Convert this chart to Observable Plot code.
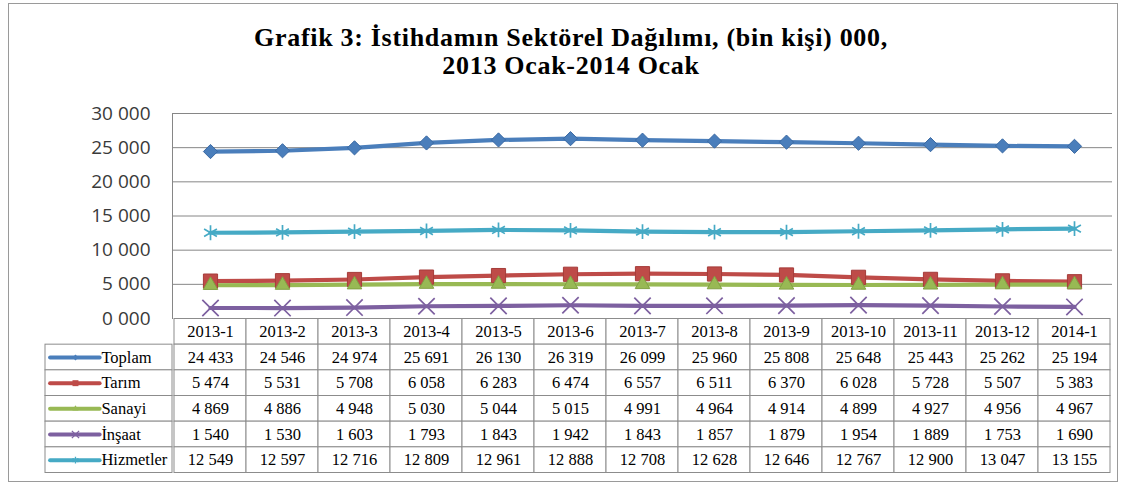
<!DOCTYPE html>
<html><head><meta charset="utf-8">
<script src="https://cdn.jsdelivr.net/npm/d3@7"></script>
<script src="https://cdn.jsdelivr.net/npm/@observablehq/plot@0.6"></script>
<style>
body{margin:0;background:#fff;}
#wrap{position:relative;width:1129px;height:486px;overflow:hidden;background:#fff;}
#border{position:absolute;left:8px;top:3px;width:1108px;height:477px;border:1.5px solid #9a9a9a;}
#title{position:absolute;left:0;top:24px;width:1142px;text-align:center;font-weight:bold;font-size:26px;letter-spacing:0.7px;font-family:"Liberation Serif","Times New Roman",Tinos,serif;line-height:28px;color:#000;}
.abs{position:absolute;}
</style></head><body>
<div id="wrap">
<div id="border"></div>
<div id="title">Grafik 3: İstihdamın Sektörel Dağılımı, (bin kişi) 000,<br>2013 Ocak-2014 Ocak</div>
<div id="chart" class="abs" style="left:0;top:100px"></div>
<div id="table" class="abs" style="left:0;top:318px"></div>
<div id="legend" class="abs" style="left:44px;top:318px"></div>
</div>
<script>
const categories = ["2013-1","2013-2","2013-3","2013-4","2013-5","2013-6","2013-7","2013-8","2013-9","2013-10","2013-11","2013-12","2014-1"];
const seriesNames = ["Toplam","Tarım","Sanayi","İnşaat","Hizmetler"];
const toplam    = [24433,24546,24974,25691,26130,26319,26099,25960,25808,25648,25443,25262,25194];
const tarim     = [5474,5531,5708,6058,6283,6474,6557,6511,6370,6028,5728,5507,5383];
const sanayi    = [4869,4886,4948,5030,5044,5015,4991,4964,4914,4899,4927,4956,4967];
const insaat    = [1540,1530,1603,1793,1843,1942,1843,1857,1879,1954,1889,1753,1690];
const hizmetler = [12549,12597,12716,12809,12961,12888,12708,12628,12646,12767,12900,13047,13155];
const seriesValues = [toplam, tarim, sanayi, insaat, hizmetler];
const seriesColors = ["#4A7EBB","#BE4B48","#98B954","#7D60A0","#46AAC5"];
const markerEdge   = ["#3A69A3","#A53C3A","#82A043","#6A4F8C","#3A93AC"];
const yTicks = [0,5000,10000,15000,20000,25000,30000];

const SERIF = "'Liberation Serif','Times New Roman',Tinos,serif";
const fmtNum = v => d3.format(",")(v).replace(/,/g, " ");
const fmtTick = v => Math.floor(v/1000) + " 000";

const rows = [];
seriesNames.forEach((s,i) => categories.forEach((c,j) => rows.push({series:s, cat:c, value:seriesValues[i][j]})));
const bySeries = s => rows.filter(d => d.series === s);

const markerSpec = {
  "Toplam":   {symbol:"diamond2", r:6.4, filled:true},
  "Tarım":    {symbol:"square",   r:8.0, filled:true},
  "Sanayi":   {symbol:"triangle", r:5.4, filled:true},
  "İnşaat":   {symbol:"times",    r:7.5, filled:false},
  "Hizmetler":{symbol:"asterisk", r:7,   filled:false}
};

const dotMarks = seriesNames.map((s,i) => {
  const m = markerSpec[s];
  return m.filled
    ? Plot.dot(bySeries(s), {x:"cat", y:"value", symbol:m.symbol, r:m.r, fill:seriesColors[i], stroke:markerEdge[i], strokeWidth:1})
    : Plot.dot(bySeries(s), {x:"cat", y:"value", symbol:m.symbol, r:m.r, fill:"none", stroke:seriesColors[i], strokeWidth:1.7});
});

const chart = Plot.plot({
  width:1129, height:220,
  marginTop:13, marginBottom:2, marginLeft:172, marginRight:17,
  style:{fontFamily:"'Open Sans', sans-serif", fontSize:"19px", color:"#3a3a3a", background:"transparent", overflow:"visible"},
  x:{type:"point", domain:categories, padding:0.5, axis:null},
  y:{domain:[0,30000], ticks:yTicks, tickFormat:fmtTick, tickSize:0, tickPadding:22, label:null},
  color:{domain:seriesNames, range:seriesColors},
  marks:[
    Plot.ruleY(yTicks.filter(t=>t>0), {stroke:"#868686", strokeWidth:1}),
    Plot.frame({anchor:"left", stroke:"#868686"}),
    Plot.line(rows, {x:"cat", y:"value", z:"series", stroke:"series", strokeWidth:4.2, strokeLinejoin:"round"}),
    ...dotMarks
  ]
});
document.getElementById("chart").appendChild(chart);

const tableCells = [];
categories.forEach((c,j) => {
  tableCells.push({cat:c, row:0, label:c});
  seriesNames.forEach((s,i) => tableCells.push({cat:c, row:i+1, label:fmtNum(seriesValues[i][j])}));
});

const table = Plot.plot({
  width:1129, height:156,
  marginTop:0, marginBottom:0, marginLeft:172, marginRight:17,
  style:{background:"transparent", overflow:"visible"},
  x:{type:"band", domain:categories, padding:0, axis:null},
  y:{domain:[0,6], range:[0.5,154.5], axis:null},
  marks:[
    Plot.barY(tableCells, {x:"cat", y1:"row", y2:d=>d.row+1, fill:"white", stroke:"#8c8c8c", strokeWidth:1, inset:0}),
    Plot.text(tableCells, {x:"cat", y:d=>d.row+0.5, text:"label", fontSize:16.5, fontFamily:SERIF, fill:"#000"})
  ]
});
document.getElementById("table").appendChild(table);

const legendRows = seriesNames.map((s,i) => ({name:s, row:i+1, color:seriesColors[i]}));
const legendDots = legendRows.map((d,i) => {
  const m = markerSpec[d.name];
  return m.filled
    ? Plot.dot([d], {x:0.236, y:d.row+0.5, symbol:m.symbol, r:m.r*0.42, fill:d.color, stroke:"none"})
    : Plot.dot([d], {x:0.236, y:d.row+0.5, symbol:m.symbol, r:m.r*0.45, fill:"none", stroke:d.color, strokeWidth:1.3});
});

const legend = Plot.plot({
  width:130, height:156,
  marginTop:0, marginBottom:0, marginLeft:0, marginRight:0,
  style:{background:"transparent", overflow:"visible"},
  x:{domain:[0,1], range:[1,128], axis:null},
  y:{domain:[0,6], range:[0.5,154.5], axis:null},
  color:{type:"identity"},
  marks:[
    Plot.rect(legendRows, {x1:0, x2:1, y1:"row", y2:d=>d.row+1, fill:"white", stroke:"#8c8c8c", strokeWidth:1}),
    Plot.ruleY(legendRows, {y:d=>d.row+0.5, x1:0.04, x2:0.43, stroke:"color", strokeWidth:4, strokeLinecap:"round"}),
    ...legendDots,
    Plot.text(legendRows, {x:0.44, y:d=>d.row+0.5, text:"name", textAnchor:"start", fontSize:16.5, fontFamily:SERIF, fill:"#000"})
  ]
});
document.getElementById("legend").appendChild(legend);
</script>
</body></html>
